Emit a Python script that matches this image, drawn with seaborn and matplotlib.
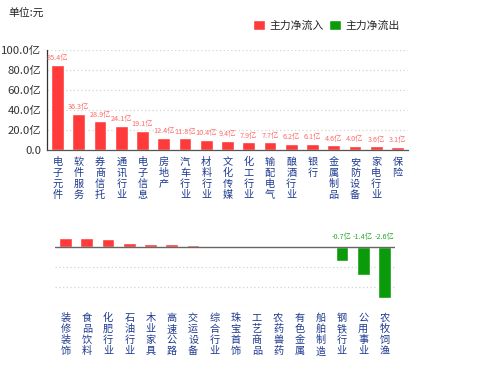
import matplotlib
matplotlib.use("Agg")
import matplotlib.pyplot as plt
import seaborn as sns
import pandas as pd
from matplotlib.patches import Patch

# upper panel: inflow sectors
top_cats = ["电子元件", "软件服务", "券商信托", "通讯行业", "电子信息", "房地产", "汽车行业",
            "材料行业", "文化传媒", "化工行业", "输配电气", "酿酒行业", "银行", "金属制品",
            "安防设备", "家电行业", "保险"]
top_vals = [85.4, 36.3, 28.9, 24.1, 19.1, 12.4, 11.8, 10.4, 9.4, 7.9, 7.7, 6.2, 6.1, 4.6,
            4.0, 3.6, 3.1]

# lower panel: small inflows and the outflows
bot_cats = ["装修装饰", "食品饮料", "化肥行业", "石油行业", "木业家具", "高速公路", "交运设备",
            "综合行业", "珠宝首饰", "工艺商品", "农药兽药", "有色金属", "船舶制造", "钢铁行业",
            "公用事业", "农牧饲渔"]
bot_vals = [0.46, 0.46, 0.40, 0.20, 0.17, 0.15, 0.12, 0.05, 0.03, 0.02, 0.01, 0.01, 0.01,
            -0.7, -1.4, -2.6]

RED = "#ff3a3a"
GREEN = "#0a9a0a"
LBL_RED = "#ff6a6a"
LBL_GREEN = "#2aa52a"
TICK_BLUE = "#1d3a8f"

sns.set_theme(style="white")
plt.rcParams["font.family"] = ["Noto Sans CJK SC", "DejaVu Sans"]

fig = plt.figure(figsize=(4.99, 3.89), dpi=100)
ax1 = fig.add_axes([0.0942, 0.6144, 0.7234, 0.2571])
ax2 = fig.add_axes([0.1102, 0.2126, 0.6814, 0.2021])


def vertical(s):
    return "\n".join(list(s))


def draw(ax, cats, vals):
    df = pd.DataFrame({"cat": cats, "val": vals,
                       "dir": ["in" if v >= 0 else "out" for v in vals]})
    sns.barplot(data=df, x="cat", y="val", hue="dir", palette={"in": RED, "out": GREEN},
                dodge=False, legend=False, width=0.6, ax=ax, saturation=1)
    ax.set_xlabel("")
    ax.set_ylabel("")
    ax.set_xlim(-0.5, len(cats) - 0.5)
    ax.set_xticks(range(len(cats)))
    ax.set_xticklabels([vertical(c) for c in cats], fontsize=7.3, color=TICK_BLUE,
                       linespacing=1.12, va="top")
    ax.tick_params(axis="x", length=0, pad=5)
    for s in ["top", "right"]:
        ax.spines[s].set_visible(False)
    ax.grid(axis="y", color="#d4d4d4", linestyle=(0, (1, 2)), linewidth=0.9)
    ax.set_axisbelow(True)


# top chart
draw(ax1, top_cats, top_vals)
ax1.set_ylim(0, 100)
ax1.set_yticks([0, 20, 40, 60, 80, 100])
ax1.set_yticklabels(["0.0"] + [f"{v:.1f}亿" for v in [20, 40, 60, 80, 100]],
                    fontsize=8.2, color="#333333")
ax1.tick_params(axis="y", length=0, pad=4)
ax1.spines["left"].set_color("#333333")
ax1.spines["left"].set_linewidth(0.9)
ax1.spines["bottom"].set_color("#555555")
ax1.spines["bottom"].set_linewidth(0.9)
for i, v in enumerate(top_vals):
    ax1.text(i, v + 2.5, f"{v:.1f}亿", ha="center", va="bottom", fontsize=5.2,
             color=LBL_RED)

# bottom chart
draw(ax2, bot_cats, bot_vals)
ax2.set_ylim(-3, 1)
ax2.set_yticks([-3, -2, -1])
ax2.set_yticklabels([])
ax2.tick_params(axis="y", length=0)
ax2.spines["left"].set_visible(False)
ax2.spines["bottom"].set_visible(False)
ax2.axhline(0, color="#666666", linewidth=1.0, zorder=3)
for i, v in enumerate(bot_vals):
    if v < 0:
        ax2.text(i, 0.3, f"{v:.1f}亿", ha="center", va="bottom", fontsize=5.2,
                 color=LBL_GREEN)

fig.text(0.016, 0.966, "单位:元", fontsize=7.8, color="#222222", va="center")

handles = [Patch(facecolor=RED, label="主力净流入"), Patch(facecolor=GREEN, label="主力净流出")]
fig.legend(handles=handles, loc="center right", bbox_to_anchor=(0.81, 0.935), ncol=2,
           frameon=False, fontsize=7.8, handlelength=1.1, handleheight=1.1,
           handletextpad=0.4, columnspacing=0.5, borderaxespad=0)

fig.savefig("out.png", dpi=100)
